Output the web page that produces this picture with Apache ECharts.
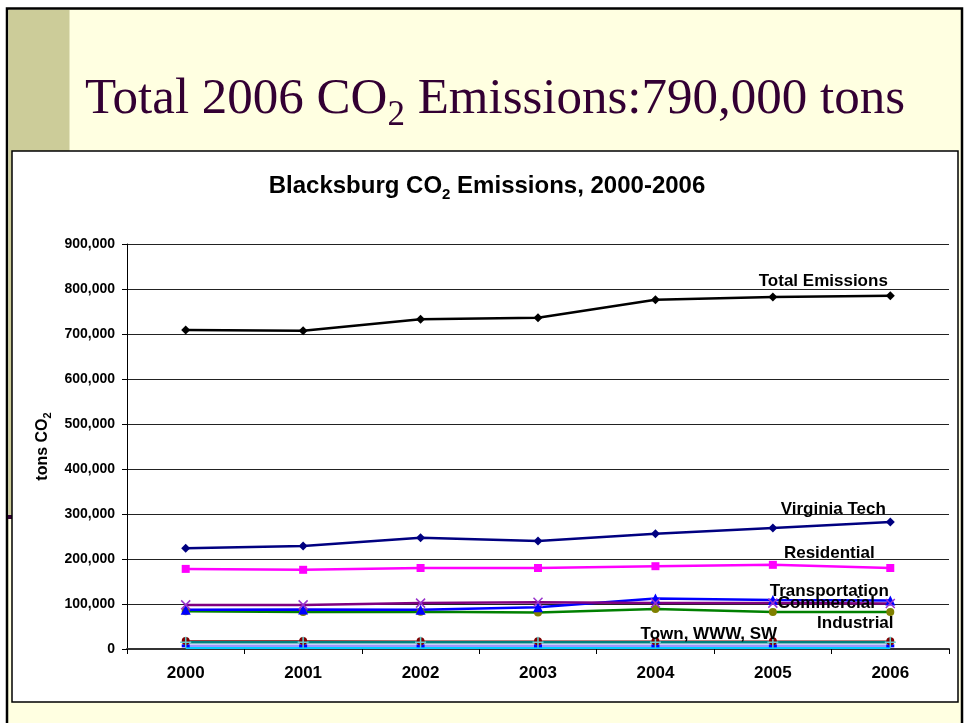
<!DOCTYPE html>
<html>
<head>
<meta charset="utf-8">
<title>Blacksburg CO2 Emissions</title>
<script src="https://cdn.jsdelivr.net/npm/echarts@6.0.0/dist/echarts.min.js"></script>
<style>
html, body { margin: 0; padding: 0; background: #fff; }
#main { width: 964px; height: 723px; }
</style>
</head>
<body>
<div id="main"></div>
<script>
// data
var years = ['2000', '2001', '2002', '2003', '2004', '2005', '2006'];
var totalEmissions = [709000, 707000, 733000, 736000, 776000, 782000, 785000];
var virginiaTech   = [224000, 229000, 247000, 240000, 256000, 269000, 282000];
var residential    = [178000, 176000, 180000, 180000, 184000, 187000, 180000];
var commercial     = [98000, 98000, 102000, 104000, 102000, 102000, 101000];
var transportation = [87000, 88000, 87000, 93000, 112000, 109000, 108000];
var industrial     = [84000, 82000, 83000, 81000, 89000, 82000, 82000];
var townOps        = [18000, 18000, 17000, 17000, 17000, 17000, 17000];
var waterWaste     = [15000, 15000, 15000, 15000, 15000, 15000, 15000];
var solidWaste     = [7000, 7000, 7000, 7000, 7000, 7000, 7000];
var otherSmall     = [3000, 3000, 3000, 3000, 3000, 3000, 3000];
var yMin = 0, yMax = 900000, yStep = 100000;

var FONT = "'Liberation Sans', Arial, sans-serif";
var SERIF = "'Liberation Serif', 'Times New Roman', serif";

// put a text label on one point only
function withLabel(values, idx, text, offset) {
  return values.map(function (v, i) {
    if (i !== idx) return v;
    return {
      value: v,
      label: {
        show: true, position: 'inside', offset: offset,
        formatter: text, color: '#000',
        fontFamily: FONT, fontWeight: 'bold', fontSize: 17
      }
    };
  });
}

var chart = echarts.init(document.getElementById('main'));

function line(name, data, color, lineColor, symbol, size, extra) {
  var s = {
    name: name,
    type: 'line',
    data: data,
    symbol: symbol,
    symbolSize: size,
    showSymbol: symbol !== 'none',
    itemStyle: { color: color },
    lineStyle: { color: lineColor, width: 2.5 },
    emphasis: { disabled: true },
    animation: false
  };
  if (extra) for (var k in extra) s[k] = extra[k];
  return s;
}

var crossPath = 'path://M0,0L10,10M10,0L0,10';
var plusPath = 'path://M5,0L5,10M0,5L10,5';

var option = {
  backgroundColor: '#fff',
  animation: false,
  graphic: [
    { type: 'rect', z: -30, shape: { x: 7, y: 8.5, width: 955, height: 730 },
      style: { fill: '#FFFFE1', stroke: '#000', lineWidth: 2.5 } },
    { type: 'rect', z: -25, shape: { x: 8.5, y: 10, width: 61, height: 506 },
      style: { fill: '#CCCC99' } },
    { type: 'rect', z: -25, shape: { x: 8, y: 515, width: 4, height: 4 },
      style: { fill: '#330033' } },
    { type: 'rect', z: -20, shape: { x: 12, y: 151, width: 946, height: 551 },
      style: { fill: '#fff', stroke: '#000', lineWidth: 1.5 } },
    { type: 'text', z: 10, x: 85, y: 74,
      style: {
        text: '{a|Total 2006 CO}{s|2}{a| Emissions:790,000 tons}',
        fill: '#330033', align: 'left', verticalAlign: 'top',
        rich: {
          a: { fontFamily: SERIF, fontSize: 51, fill: '#330033', verticalAlign: 'top' },
          s: { fontFamily: SERIF, fontSize: 35, fill: '#330033', verticalAlign: 'top', padding: [24, 0, 0, 0] }
        }
      } },
    { type: 'text', z: 10, x: 487, y: 174,
      style: {
        text: '{a|Blacksburg CO}{s|2}{a| Emissions, 2000-2006}',
        fill: '#000', align: 'center', verticalAlign: 'top',
        rich: {
          a: { fontFamily: FONT, fontWeight: 'bold', fontSize: 24, fill: '#000', verticalAlign: 'top' },
          s: { fontFamily: FONT, fontWeight: 'bold', fontSize: 15, fill: '#000', verticalAlign: 'top', padding: [13, 0, 0, 0] }
        }
      } }
  ],
  grid: { left: 127, right: 15, top: 244, bottom: 74 },
  xAxis: {
    type: 'category',
    data: years,
    boundaryGap: true,
    axisLine: { lineStyle: { color: '#333', width: 2 } },
    axisTick: { show: true, length: 5, lineStyle: { color: '#000', width: 1 } },
    axisLabel: { color: '#000', fontFamily: FONT, fontWeight: 'bold', fontSize: 17, margin: 16 },
    splitLine: { show: false }
  },
  yAxis: {
    type: 'value',
    min: yMin, max: yMax, interval: yStep,
    name: '{a|tons CO}{s|2}',
    nameLocation: 'middle',
    nameGap: 71,
    nameRotate: 90,
    nameTextStyle: {
      rich: {
        a: { fontFamily: FONT, fontWeight: 'bold', fontSize: 16, color: '#000', verticalAlign: 'top' },
        s: { fontFamily: FONT, fontWeight: 'bold', fontSize: 11, color: '#000', verticalAlign: 'top', padding: [8, 0, 0, 0] }
      }
    },
    axisLine: { show: true, lineStyle: { color: '#000', width: 1 } },
    axisTick: { show: true, length: 5, lineStyle: { color: '#000' } },
    axisLabel: {
      color: '#000', fontFamily: FONT, fontWeight: 'bold', fontSize: 14, margin: 12,
      formatter: function (v) { return v.toLocaleString('en-US'); }
    },
    splitLine: { show: true, lineStyle: { color: '#222', width: 1 } }
  },
  series: [
    line('Other', otherSmall, '#00CCFF', '#00CCFF', 'none', 0),
    line('Solid Waste', solidWaste, '#0000FF', '#9999FF', 'rect', [8, 3]),
    line('Town', withLabel(townOps, 5, 'Town, WWW, SW', [-64, -7]), '#800000', '#800000', 'circle', 8,
      { lineStyle: { color: '#800000', width: 1.5 } }),
    line('WWW', waterWaste, '#66CCCC', '#008080', plusPath, 11,
      { itemStyle: { color: '#66CCCC', borderColor: '#66CCCC', borderWidth: 1.5 } }),
    line('Industrial', withLabel(industrial, 6, 'Industrial', [-35, 11]), '#808000', '#008000', 'circle', 8),
    line('Transportation', withLabel(transportation, 6, 'Transportation', [-61, -9]), '#0000FF', '#0000FF', 'triangle', 10),
    line('Commercial', withLabel(commercial, 6, 'Commercial', [-64, 0]), '#800080', '#800080', crossPath, 9,
      { itemStyle: { color: '#800080', borderColor: '#9933CC', borderWidth: 1.5 } }),
    line('Residential', withLabel(residential, 6, 'Residential', [-61, -15]), '#FF00FF', '#FF00FF', 'rect', 8),
    line('Virginia Tech', withLabel(virginiaTech, 6, 'Virginia Tech', [-57, -13]), '#000080', '#000080', 'diamond', 9),
    line('Total Emissions', withLabel(totalEmissions, 6, 'Total Emissions', [-67, -14]), '#000', '#000', 'diamond', 9)
  ]
};

chart.setOption(option);
</script>
</body>
</html>
